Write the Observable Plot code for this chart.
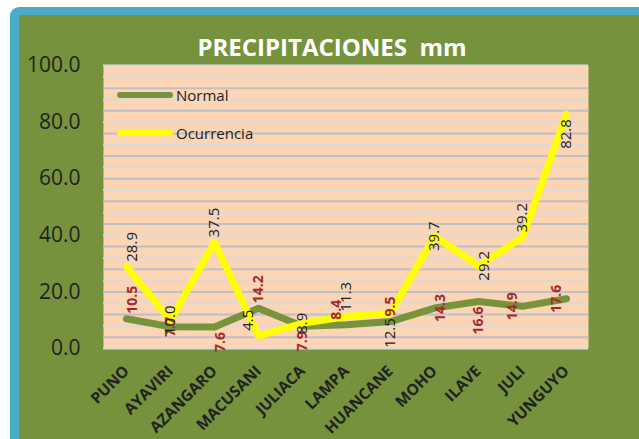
<!DOCTYPE html>
<html><head><meta charset="utf-8">
<script src="https://cdn.jsdelivr.net/npm/d3@7"></script>
<script src="https://cdn.jsdelivr.net/npm/@observablehq/plot@0.6"></script>
<style>
html,body{margin:0;padding:0;background:#fff;overflow:hidden;width:639px;height:439px}
#panel{position:absolute;left:10px;top:7px;width:700px;height:500px;background:#76923c;border-left:9px solid #4bacc6;border-top:8px solid #4bacc6;border-top-left-radius:9px;box-sizing:border-box}
#chart{position:absolute;left:0;top:0}
.leg{position:absolute;left:117px;font:15px "Open Sans",sans-serif;color:#222;display:flex;align-items:center;height:20px}
.leg span{display:inline-block;width:56px;height:6px;border-radius:3px;margin-right:3px}
</style></head><body>
<div id="panel"></div>
<div id="chart"></div>
<div class="leg" id="legNormal"><span style="background:#77933c"></span>Normal</div>
<div class="leg" id="legOcc"><span style="background:#ffff00"></span>Ocurrencia</div>
<script>
const stations = ["PUNO","AYAVIRI","AZANGARO","MACUSANI","JULIACA","LAMPA","HUANCANE","MOHO","ILAVE","JULI","YUNGUYO"];
const normal = [10.5, 7.7, 7.6, 14.2, 7.9, 8.4, 9.5, 14.3, 16.6, 14.9, 17.6];
const ocurrencia = [28.9, 10.0, 37.5, 4.5, 8.9, 11.3, 12.5, 39.7, 29.2, 39.2, 82.8];
const yTicks = [0, 20, 40, 60, 80, 100];
const seriesNames = ["Normal", "Ocurrencia"];
const title = "PRECIPITACIONES\u00a0 mm";
// label placement keywords (vertical / horizontal nudge)
const normalLabelV = ["above","center","below","above","below","above","above","center","below","center","center"];
const normalLabelH = ["right","","right","","","left","","right","","left","left"];
const occLabelV = ["above","center","above","above","center","above","below","center","center","above","below"];
const occLabelH = ["right","","","left","","","","","right","",""];

document.getElementById("legNormal").style.top = (95 - 10) + "px";
document.getElementById("legOcc").style.top = (133 - 10) + "px";

const rows = stations.map((s, i) => ({station: s, normal: normal[i], ocurrencia: ocurrencia[i], i}));
const vMap = {above: ["start", -5], below: ["end", 5], center: ["middle", 0]};
const hMap = {left: -10, right: 6, "": 0};

function labelMarks(key, vArr, hArr, style) {
  const groups = d3.groups(rows, d => vArr[d.i] + "|" + hArr[d.i]);
  return groups.map(([k, data]) => {
    const [v, h] = k.split("|");
    return Plot.text(data, {
      x: "station", y: key, text: d => d[key].toFixed(1),
      rotate: -90, textAnchor: vMap[v][0], dy: vMap[v][1], dx: hMap[h],
      lineAnchor: "middle", ...style
    });
  });
}

const grid = d3.range(4, 100, 4);
const chart = Plot.plot({
  width: 639, height: 439,
  marginLeft: 103, marginRight: 51, marginTop: 65, marginBottom: 91,
  style: {background: "transparent", fontFamily: "Open Sans, sans-serif", overflow: "visible"},
  x: {type: "point", domain: stations, padding: 0.5, label: null, axis: null},
  y: {domain: [0, 100], label: null, axis: null},
  marks: [
    Plot.frame({fill: "#fcd5b4", stroke: null}),
    Plot.ruleY(grid.filter(d => d % 8 === 0), {stroke: "#dadada", strokeWidth: 2}),
    Plot.ruleY(grid.filter(d => d % 8 !== 0), {stroke: "#bec0c9", strokeWidth: 2}),
    Plot.ruleY([0, 100], {stroke: "#dcdcdc", strokeWidth: 2}),
    Plot.axisY({ticks: yTicks, tickFormat: d => d.toFixed(1), tickSize: 0, tickPadding: 23, fontSize: 21, fill: "#222", label: null}),
    Plot.text(stations, {x: d => d, frameAnchor: "bottom", dy: 20, dx: 0, rotate: -45, textAnchor: "end", lineAnchor: "middle", fontSize: 15.5, fontWeight: "bold", fill: "#222"}),
    Plot.line(rows, {x: "station", y: "normal", stroke: "#77933c", strokeWidth: 7, strokeLinecap: "round", strokeLinejoin: "round"}),
    Plot.line(rows, {x: "station", y: "ocurrencia", stroke: "#ffff00", strokeWidth: 7, strokeLinecap: "round", strokeLinejoin: "round"}),
    ...labelMarks("normal", normalLabelV, normalLabelH, {fill: "#a52a2a", fontSize: 14, fontWeight: "bold"}),
    ...labelMarks("ocurrencia", occLabelV, occLabelH, {fill: "#222", fontSize: 15}),
    Plot.text([title], {frameAnchor: "top", dy: -17, dx: -14, fill: "white", fontWeight: "bold", fontSize: 24, lineAnchor: "middle"})
  ]
});
document.getElementById("chart").append(chart);
</script>
</body></html>
